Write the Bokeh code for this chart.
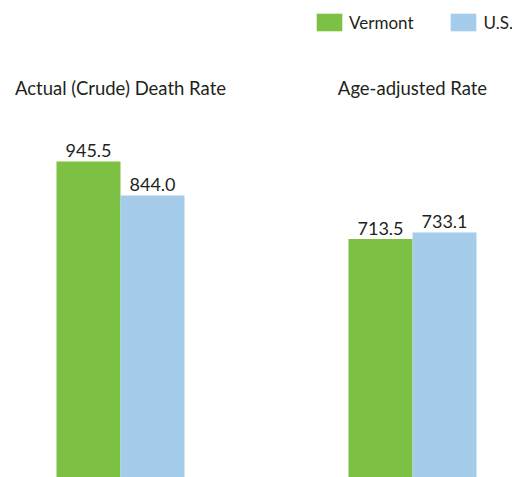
from bokeh.plotting import figure
from bokeh.models import Range1d, Legend, LegendItem, ColumnDataSource
from bokeh.core.properties import value
from bokeh.embed import file_html
from bokeh.resources import INLINE

# ---- data ----
groups = ["Actual (Crude) Death Rate", "Age-adjusted Rate"]
series = ["Vermont", "U.S."]
vermont = [945.5, 713.5]
us = [844.0, 733.1]

# ---- style ----
FONT = "Lato"
GREEN = "#7CC144"
BLUE = "#A6CCEC"
TXT = "#231f20"
W, H = 512, 477
PX_PER_X = 292.0          # pixels between group centres
BW = 64.0 / PX_PER_X      # bar width in x units
PX_PER_Y = 0.3342         # pixels per rate unit
X0 = -120.0 / PX_PER_X

p = figure(width=W, height=H, output_backend="svg", toolbar_location=None,
           x_range=Range1d(X0, X0 + W / PX_PER_X),
           y_range=Range1d(0, H / PX_PER_Y),
           min_border=0, min_border_left=0, min_border_right=0,
           min_border_top=0, min_border_bottom=0)
p.axis.visible = False
p.grid.visible = False
p.outline_line_color = None
p.background_fill_color = "white"
p.border_fill_color = "white"

xs = list(range(len(groups)))
src_v = ColumnDataSource(dict(x=[i - BW / 2 for i in xs], top=vermont,
                              lab=[f"{v:.1f}" for v in vermont]))
src_u = ColumnDataSource(dict(x=[i + BW / 2 for i in xs], top=us,
                              lab=[f"{v:.1f}" for v in us]))

rv = p.vbar(x="x", top="top", width=BW, bottom=0, source=src_v,
            fill_color=GREEN, line_color=None)
ru = p.vbar(x="x", top="top", width=BW, bottom=0, source=src_u,
            fill_color=BLUE, line_color=None)

for src in (src_v, src_u):
    p.text(x="x", y="top", text="lab", source=src, text_align="center",
           text_baseline="alphabetic", y_offset=-11,
           text_font=value(FONT), text_font_size="18px", text_color=TXT)

# group titles
title_y = (H - 87) / PX_PER_Y
p.text(x=xs, y=[title_y] * len(groups), text=groups, text_align="center",
       text_baseline="alphabetic", text_font=value(FONT),
       text_font_size="18.5px", text_color=TXT)

legend = Legend(items=[LegendItem(label=series[0], renderers=[rv]),
                       LegendItem(label=series[1], renderers=[ru])],
                orientation="horizontal", location=(313, 444),
                glyph_width=32, glyph_height=22, label_height=22,
                label_standoff=4, spacing=34, padding=0, margin=0,
                border_line_color=None, background_fill_alpha=0,
                label_text_font=FONT, label_text_font_size="17px",
                label_text_color=TXT)
p.add_layout(legend)

open("out.html", "w").write(file_html(p, INLINE))
